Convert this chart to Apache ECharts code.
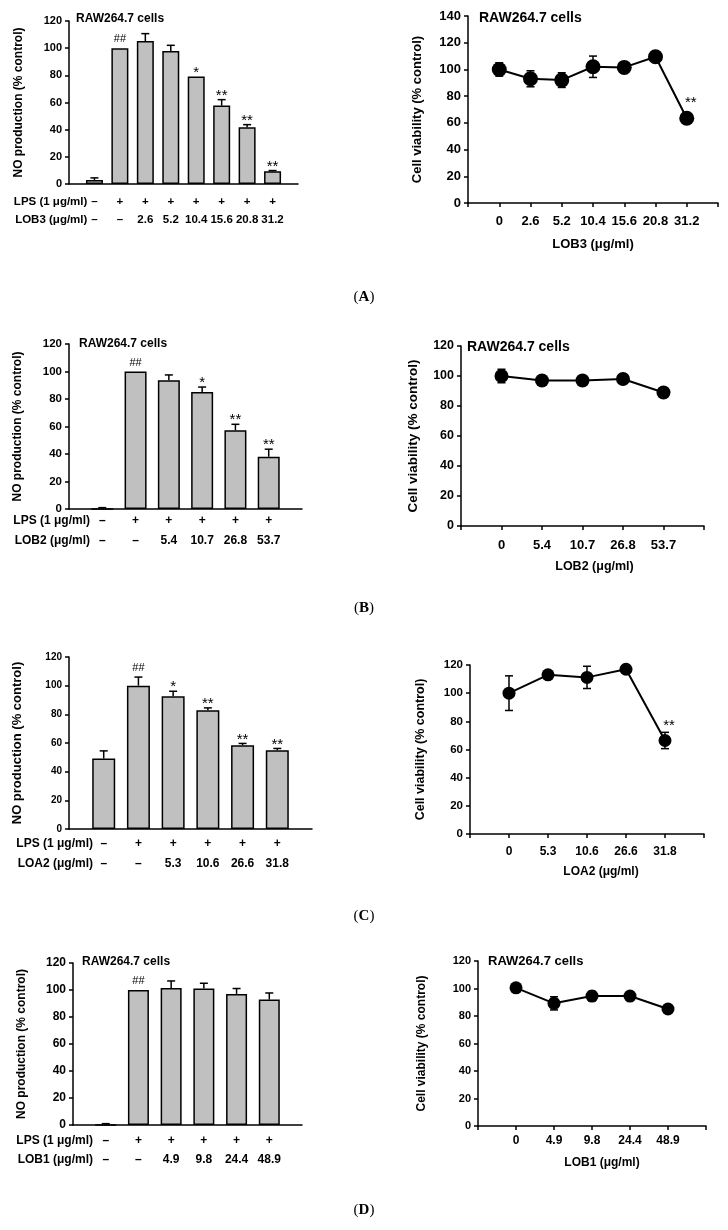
<!DOCTYPE html>
<html>
<head>
<meta charset="utf-8">
<title>NO production and cell viability, RAW264.7 cells</title>
<script src="https://cdn.jsdelivr.net/npm/echarts/dist/echarts.min.js"></script>
<style>
  html, body { margin: 0; padding: 0; background: #fff; }
  #main { width: 728px; height: 1230px; }
</style>
</head>
<body>
<div id="main"></div>
<script>
// ---- (A) LOB3 ----
const aLps = ['–', '+', '+', '+', '+', '+', '+', '+'];
const aDose = ['–', '–', '2.6', '5.2', '10.4', '15.6', '20.8', '31.2'];
const aNo = [3, 100, 105.3, 97.9, 79.1, 57.7, 41.7, 9.4];
const aNoErr = [1.5, 0, 5.4, 4.2, 0, 4.4, 2, 0.5];
const aNoMark = ['', '##', '', '', '*', '**', '**', '**'];
const aConc = ['0', '2.6', '5.2', '10.4', '15.6', '20.8', '31.2'];
const aViab = [100, 93, 92, 102, 101.5, 109.5, 63.5];
const aViabErr = [5, 6, 5.5, 8, 1, 2, 2];
const aViabMark = ['', '', '', '', '', '', '**'];

// ---- (B) LOB2 ----
const bLps = ['–', '+', '+', '+', '+', '+'];
const bDose = ['–', '–', '5.4', '10.7', '26.8', '53.7'];
const bNo = [0, 100, 93.6, 85.1, 57.3, 38];
const bNoErr = [1, 0, 3.9, 3.6, 4.3, 5.5];
const bNoMark = ['', '##', '', '*', '**', '**'];
const bConc = ['0', '5.4', '10.7', '26.8', '53.7'];
const bViab = [100, 97, 97, 98, 89];
const bViabErr = [4.5, 1, 1.5, 1, 1];
const bViabMark = ['', '', '', '', ''];

// ---- (C) LOA2 ----
const cLps = ['–', '+', '+', '+', '+', '+'];
const cDose = ['–', '–', '5.3', '10.6', '26.6', '31.8'];
const cNo = [49.2, 100, 92.6, 82.9, 58.5, 55];
const cNoErr = [5.3, 6, 3.5, 1.6, 1.2, 1.2];
const cNoMark = ['', '##', '*', '**', '**', '**'];
const cConc = ['0', '5.3', '10.6', '26.6', '31.8'];
const cViab = [100, 113, 111.2, 117, 66.4];
const cViabErr = [12.3, 1, 7.9, 1.5, 5.8];
const cViabMark = ['', '', '', '', '**'];

// ---- (D) LOB1 ----
const dLps = ['–', '+', '+', '+', '+', '+'];
const dDose = ['–', '–', '4.9', '9.8', '24.4', '48.9'];
const dNo = [0, 100, 101.5, 101.1, 97.1, 92.9];
const dNoErr = [1, 0, 5.2, 3.9, 4, 4.9];
const dNoMark = ['', '##', '', '', '', ''];
const dConc = ['0', '4.9', '9.8', '24.4', '48.9'];
const dViab = [100.5, 89.2, 94.5, 94.5, 85.1];
const dViabErr = [1, 4.8, 3.4, 1, 1];
const dViabMark = ['', '', '', '', ''];

const FONT = '"Liberation Sans", Arial, sans-serif';
const NO_TITLE = 'NO production (% control)';
const VIAB_TITLE = 'Cell viability (% control)';

const option = {
  backgroundColor: '#fff',
  animation: false,
  grid: [], xAxis: [], yAxis: [], series: [], graphic: []
};

function addGrid(p) {
  option.grid.push({ left: p.left, top: p.top, width: p.width, height: p.height });
  return option.grid.length - 1;
}

function addYAxis(p, g, name) {
  option.yAxis.push({
    gridIndex: g, type: 'value', min: 0, max: p.ymax, interval: 20, position: 'left',
    name: name, nameLocation: 'middle', nameGap: p.yNameGap,
    nameTextStyle: { fontFamily: FONT, fontWeight: 'bold', fontSize: p.yNameFs, color: '#000' },
    axisLine: { show: true, onZero: false, lineStyle: { color: '#000', width: 1.5 } },
    axisTick: { show: true, length: 4, lineStyle: { color: '#000', width: 1.5 } },
    axisLabel: { fontFamily: FONT, fontWeight: 'bold', fontSize: p.tickFs, color: '#000', margin: 7 },
    splitLine: { show: false }
  });
  return option.yAxis.length - 1;
}

// error bars + significance marks drawn through the axes
function errRender(errs, marks, twoSided) {
  return function (params, api) {
    const i = params.dataIndex;
    const x = api.value(0), v = api.value(1), e = errs[i];
    const mid = api.coord([x, v]);
    const hi = api.coord([x, v + e]);
    const lo = api.coord([x, twoSided ? v - e : v]);
    const st = { stroke: '#000', lineWidth: 1.5 };
    const kids = [];
    if (e > 0) {
      kids.push({ type: 'line', shape: { x1: lo[0], y1: lo[1], x2: hi[0], y2: hi[1] }, style: st });
      kids.push({ type: 'line', shape: { x1: hi[0] - 4, y1: hi[1], x2: hi[0] + 4, y2: hi[1] }, style: st });
      if (twoSided) {
        kids.push({ type: 'line', shape: { x1: lo[0] - 4, y1: lo[1], x2: lo[0] + 4, y2: lo[1] }, style: st });
      }
    }
    const m = marks[i];
    if (m) {
      const hash = m[0] === '#';
      let tx = hi[0], ty = hi[1] - (hash ? 9 : 4);
      if (twoSided) { tx = mid[0] + 4; ty = Math.min(mid[1] - 15, hi[1] - 4); }
      kids.push({
        type: 'text', x: tx, y: ty,
        style: {
          text: m, fill: '#000', align: 'center', verticalAlign: 'middle',
          font: (hash ? '11px ' : '15px ') + FONT
        }
      });
    }
    return { type: 'group', children: kids };
  };
}

function barPanel(p) {
  const g = addGrid(p);
  const yi = addYAxis(p, g, NO_TITLE);
  const n = p.values.length;
  const base = { gridIndex: g, type: 'value', min: -1, max: n, interval: 1, position: 'bottom', splitLine: { show: false } };
  const xi = option.xAxis.length;
  option.xAxis.push(Object.assign({}, base, {
    axisLine: { show: true, onZero: false, lineStyle: { color: '#000', width: 1.5 } },
    axisTick: { show: false }, axisLabel: { show: false }
  }));
  p.rows.forEach(function (row) {
    option.xAxis.push(Object.assign({}, base, {
      offset: row.offset,
      axisLine: { show: false, onZero: false }, axisTick: { show: false },
      axisLabel: {
        margin: 0, verticalAlign: 'middle', fontFamily: FONT, fontWeight: 'bold',
        fontSize: p.rowFs, color: '#000',
        formatter: function (v) { return row.labels[v] !== undefined ? row.labels[v] : ''; }
      },
      name: row.name, nameLocation: 'start', nameGap: p.rowNameGap,
      nameTextStyle: { fontFamily: FONT, fontWeight: 'bold', fontSize: p.rowFs, color: '#000', align: 'right', verticalAlign: 'middle' }
    }));
  });
  option.series.push({
    type: 'bar', xAxisIndex: xi, yAxisIndex: yi, barWidth: p.barWidth, z: 2,
    data: p.values.map(function (v, i) { return [i, v]; }),
    itemStyle: { color: '#c0c0c0', borderColor: '#000', borderWidth: 1.5 }
  });
  option.series.push({
    type: 'custom', xAxisIndex: xi, yAxisIndex: yi, z: 3,
    encode: { x: 0, y: 1 },
    data: p.values.map(function (v, i) { return [i, v]; }),
    renderItem: errRender(p.errs, p.marks, false)
  });
}

function linePanel(p) {
  const g = addGrid(p);
  const yi = addYAxis(p, g, VIAB_TITLE);
  const n = p.values.length;
  const xi = option.xAxis.length;
  option.xAxis.push({
    gridIndex: g, type: 'value', min: -1, max: n, interval: 1, position: 'bottom',
    splitLine: { show: false },
    axisLine: { show: true, onZero: false, lineStyle: { color: '#000', width: 1.5 } },
    axisTick: { show: true, length: 4, lineStyle: { color: '#000', width: 1.5 } },
    axisLabel: {
      margin: p.xLabelMargin, fontFamily: FONT, fontWeight: 'bold', fontSize: p.xLabelFs, color: '#000',
      formatter: function (v) { return p.conc[v] !== undefined ? p.conc[v] : ''; }
    },
    name: p.xName, nameLocation: 'middle', nameGap: p.xNameGap,
    nameTextStyle: {
      fontFamily: FONT, fontWeight: 'bold', fontSize: p.xNameFs, color: '#000',
      padding: [0, 0, 0, 2 * p.xNameShift]
    }
  });
  option.series.push({
    type: 'custom', xAxisIndex: xi, yAxisIndex: yi, z: 2,
    encode: { x: 0, y: 1 },
    data: p.values.map(function (v, i) { return [i, v]; }),
    renderItem: errRender(p.errs, p.marks, true)
  });
  option.series.push({
    type: 'line', xAxisIndex: xi, yAxisIndex: yi, z: 3,
    data: p.values.map(function (v, i) { return [i, v]; }),
    symbol: 'circle', symbolSize: p.symbolSize,
    itemStyle: { color: '#000' },
    lineStyle: { color: '#000', width: 2 }
  });
}

function cellsTitle(x, y, fs) {
  option.graphic.push({
    type: 'text', x: x, y: y,
    style: { text: 'RAW264.7 cells', font: 'bold ' + fs + 'px ' + FONT, fill: '#000', align: 'left', verticalAlign: 'middle' }
  });
}

function panelLetter(letter, y) {
  option.graphic.push({
    type: 'text', x: 364, y: y,
    style: {
      text: '{n|(}{b|' + letter + '}{n|)}', align: 'center', verticalAlign: 'middle', fill: '#000',
      rich: {
        n: { fontFamily: '"Liberation Serif", serif', fontSize: 15, fill: '#000' },
        b: { fontFamily: '"Liberation Serif", serif', fontSize: 15, fontWeight: 'bold', fill: '#000' }
      }
    }
  });
}

// (A)
barPanel({
  left: 69, top: 21, width: 229, height: 163, ymax: 120,
  tickFs: 11, yNameFs: 12, yNameGap: 44, barWidth: 17, rowFs: 11.5, rowNameGap: -19,
  values: aNo, errs: aNoErr, marks: aNoMark,
  rows: [{ labels: aLps, name: 'LPS (1 μg/ml)', offset: 18 }, { labels: aDose, name: 'LOB3 (μg/ml)', offset: 36 }]
});
linePanel({
  left: 468, top: 16, width: 250, height: 187, ymax: 140,
  tickFs: 13, yNameFs: 13, yNameGap: 44, symbolSize: 15,
  xLabelMargin: 12, xLabelFs: 13, xName: 'LOB3 (μg/ml)', xNameGap: 35, xNameFs: 13, xNameShift: 0,
  values: aViab, errs: aViabErr, marks: aViabMark, conc: aConc
});
cellsTitle(76, 19, 12);
cellsTitle(479, 18, 14);
panelLetter('A', 297);

// (B)
barPanel({
  left: 69, top: 344, width: 233, height: 165, ymax: 120,
  tickFs: 11.5, yNameFs: 12, yNameGap: 45, barWidth: 22, rowFs: 12, rowNameGap: -21,
  values: bNo, errs: bNoErr, marks: bNoMark,
  rows: [{ labels: bLps, name: 'LPS (1 μg/ml)', offset: 12 }, { labels: bDose, name: 'LOB2 (μg/ml)', offset: 32 }]
});
linePanel({
  left: 461, top: 346, width: 243, height: 180, ymax: 120,
  tickFs: 12.5, yNameFs: 13.5, yNameGap: 41, symbolSize: 14,
  xLabelMargin: 13, xLabelFs: 13, xName: 'LOB2 (μg/ml)', xNameGap: 34, xNameFs: 12.5, xNameShift: 12,
  values: bViab, errs: bViabErr, marks: bViabMark, conc: bConc
});
cellsTitle(79, 344, 12);
cellsTitle(467, 347, 14);
panelLetter('B', 608);

// (C)
barPanel({
  left: 69, top: 657, width: 243, height: 172, ymax: 120,
  tickFs: 10, yNameFs: 13, yNameGap: 45, barWidth: 23, rowFs: 12, rowNameGap: -24,
  values: cNo, errs: cNoErr, marks: cNoMark,
  rows: [{ labels: cLps, name: 'LPS (1 μg/ml)', offset: 15 }, { labels: cDose, name: 'LOA2 (μg/ml)', offset: 35 }]
});
linePanel({
  left: 470, top: 665, width: 234, height: 169, ymax: 120,
  tickFs: 11.5, yNameFs: 12.5, yNameGap: 43, symbolSize: 13,
  xLabelMargin: 12, xLabelFs: 12, xName: 'LOA2 (μg/ml)', xNameGap: 32, xNameFs: 12, xNameShift: 14,
  values: cViab, errs: cViabErr, marks: cViabMark, conc: cConc
});
panelLetter('C', 916);

// (D)
barPanel({
  left: 73, top: 963, width: 229, height: 162, ymax: 120,
  tickFs: 12, yNameFs: 12, yNameGap: 45, barWidth: 21, rowFs: 12, rowNameGap: -20,
  values: dNo, errs: dNoErr, marks: dNoMark,
  rows: [{ labels: dLps, name: 'LPS (1 μg/ml)', offset: 16 }, { labels: dDose, name: 'LOB1 (μg/ml)', offset: 35 }]
});
linePanel({
  left: 478, top: 961, width: 228, height: 165, ymax: 120,
  tickFs: 11, yNameFs: 12, yNameGap: 50, symbolSize: 13,
  xLabelMargin: 9, xLabelFs: 12, xName: 'LOB1 (μg/ml)', xNameGap: 31, xNameFs: 12, xNameShift: 10,
  values: dViab, errs: dViabErr, marks: dViabMark, conc: dConc
});
cellsTitle(82, 962, 12);
cellsTitle(488, 961, 13);
panelLetter('D', 1210);

const chart = echarts.init(document.getElementById('main'), null, { renderer: 'canvas' });
chart.setOption(option);
</script>
</body>
</html>
